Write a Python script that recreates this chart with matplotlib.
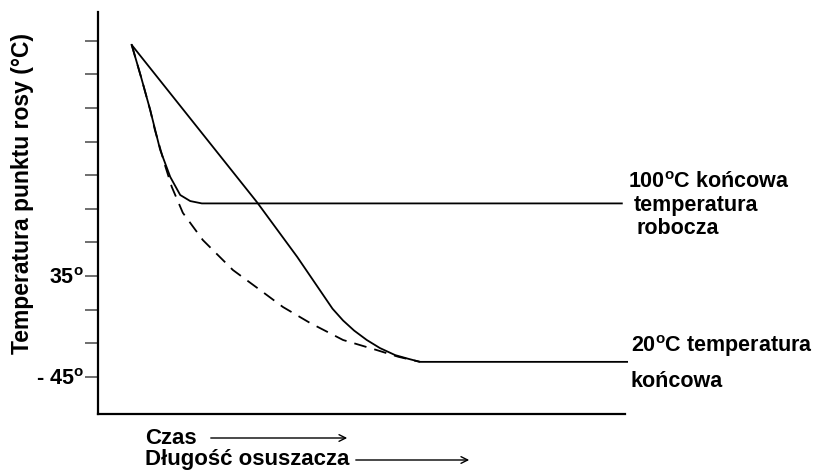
import matplotlib.pyplot as plt
from matplotlib.patches import FancyArrowPatch

# schematic units: x 0..100 along the time axis, y in tick steps (0 = -45, 3 = 35)
upper_x = [6.4, 8.2, 9.9, 11.8, 13.7, 15.6, 17.5, 19.7, 99.4]
upper_y = [9.87, 8.9, 7.94, 6.75, 5.95, 5.41, 5.23, 5.16, 5.16]

lower_x = [6.4, 30.2, 37.8, 44.5, 46.5, 48.6, 51.0, 53.5, 56.4, 58.9, 61.1, 100.4]
lower_y = [9.87, 5.19, 3.57, 2.03, 1.68, 1.38, 1.10, 0.86, 0.65, 0.54, 0.45, 0.45]

dash_x = [6.4, 8.2, 9.9, 10.8, 12.7, 14.0, 16.1, 19.9, 25.6, 30.2, 35.1, 40.2, 46.5, 52.9, 57.0, 61.1]
dash_y = [9.87, 8.9, 7.94, 7.34, 6.3, 5.65, 4.88, 4.07, 3.18, 2.65, 2.08, 1.61, 1.10, 0.80, 0.60, 0.45]

tick_pos = list(range(11))
tick_labels = ["- 45$^{\\mathbf{o}}$", "", "", "35$^{\\mathbf{o}}$", "", "", "", "", "", "", ""]

plt.rcParams['font.family'] = ['Liberation Sans', 'DejaVu Sans']
plt.rcParams['font.weight'] = 'bold'
plt.rcParams['mathtext.fontset'] = 'custom'
plt.rcParams['mathtext.bf'] = 'Liberation Sans:bold'
plt.rcParams['mathtext.rm'] = 'Liberation Sans:bold'

fig = plt.figure(figsize=(8.18, 4.73), dpi=100)
ax = fig.add_axes([98 / 818, 1 - 414 / 473, 527 / 818, 402 / 473])

ax.plot(upper_x, upper_y, color='black', lw=1.3, clip_on=False)
ax.plot(lower_x, lower_y, color='black', lw=1.3, clip_on=False)
ax.plot(dash_x, dash_y, color='black', lw=1.3, ls=(0, (7, 4.5)), clip_on=False)

ax.set_xlim(0, 100)
ax.set_ylim(-1.10, 10.85)
ax.spines['top'].set_visible(False)
ax.spines['right'].set_visible(False)
ax.spines['left'].set_linewidth(1.6)
ax.spines['bottom'].set_linewidth(1.6)
ax.set_xticks([])
ax.set_yticks(tick_pos)
ax.set_yticklabels(tick_labels, fontsize=15.5, fontweight='bold')
ax.tick_params(axis='y', length=9.5, width=1.2, color='#555555', pad=1)

fig.text(23 / 818, 1 - 193 / 473, "Temperatura punktu rosy (°C)", rotation=90,
         ha='center', va='center', fontsize=16.5, fontweight='bold')

fs = 15.5
fig.text(628 / 818, 1 - 182 / 473, "100$^{\\mathbf{o}}$C końcowa", ha='left', va='center', fontsize=fs)
fig.text(634 / 818, 1 - 205 / 473, "temperatura", ha='left', va='center', fontsize=fs)
fig.text(637 / 818, 1 - 228 / 473, "robocza", ha='left', va='center', fontsize=fs)
fig.text(631 / 818, 1 - 346 / 473, "20$^{\\mathbf{o}}$C temperatura", ha='left', va='center', fontsize=fs)
fig.text(631 / 818, 1 - 381 / 473, "końcowa", ha='left', va='center', fontsize=fs)

fig.text(145 / 818, 1 - 438 / 473, "Czas", ha='left', va='center', fontsize=16)
fig.text(145 / 818, 1 - 459 / 473, "Długość osuszacza", ha='left', va='center', fontsize=16)
arrow = dict(arrowstyle='->', color='black', lw=1.0, mutation_scale=12)
fig.add_artist(FancyArrowPatch((208 / 818, 1 - 438 / 473), (350 / 818, 1 - 438 / 473),
                               transform=fig.transFigure, **arrow))
fig.add_artist(FancyArrowPatch((353 / 818, 1 - 460 / 473), (472 / 818, 1 - 460 / 473),
                               transform=fig.transFigure, **arrow))

fig.savefig('out.png', dpi=100)
